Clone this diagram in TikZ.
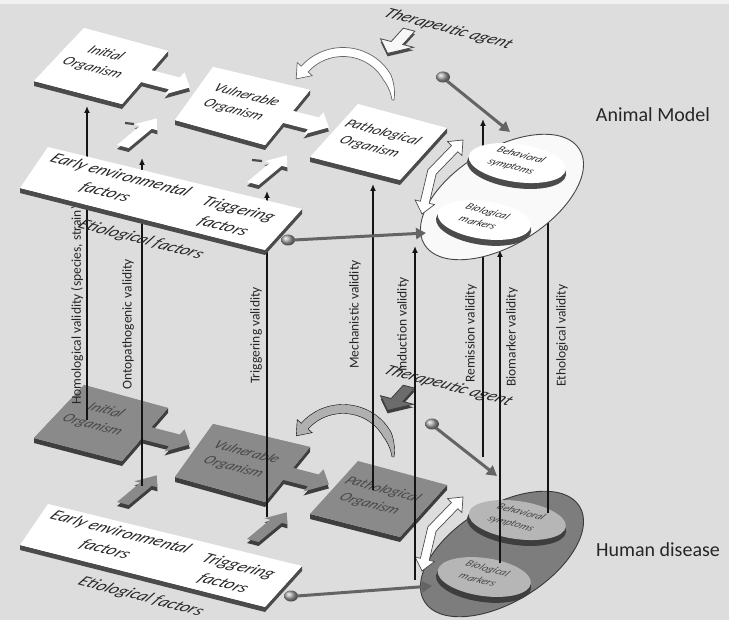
\documentclass[tikz,border=0pt]{standalone}
\usepackage{fontspec}
\setmainfont{Carlito}
\usetikzlibrary{arrows.meta,calc}
\definecolor{bgc}{RGB}{221,221,221}
\definecolor{txtc}{RGB}{38,38,38}
\definecolor{linec}{RGB}{20,20,20}
\definecolor{sideT}{RGB}{75,75,75}
\definecolor{faceB}{RGB}{138,138,138}
\definecolor{sideB}{RGB}{62,62,62}
\definecolor{lolc}{RGB}{100,100,100}
\definecolor{outB}{RGB}{125,125,125}
\definecolor{inB}{RGB}{182,182,182}

\newcommand\ptext[4]{%
  \begin{scope}[shift={(#2)},cm={0.968,-0.25,0.67,0.74,(0,0)}]
    \node[transform shape,inner sep=0pt,#3] (#1) at (0,0) {#4};
  \end{scope}}
\newcommand\slab[6]{%
  \fill[#6] (#4) -- (#3) -- (#2) -- ([yshift=-5pt]#2) -- ([yshift=-5pt]#3) -- ([yshift=-5pt]#4) -- cycle;
  \fill[#5] (#1) -- (#2) -- (#3) -- (#4) -- cycle;}
\newcommand\slabface[4]{\fill[bxface] (#1) -- (#2) -- (#3) -- (#4) -- cycle;}
\newcommand\arrowE[1]{%
  \begin{scope}[shift={(#1)},x={(0.968pt,-0.25pt)},y={(-0.67pt,-0.74pt)}]
    \fill[arrside,yshift=-4pt] (0,0) -- (38,0) -- (38,-7) -- (54,8) -- (38,23) -- (38,16) -- (0,16) -- cycle;
    \fill[arrface] (0,0) -- (38,0) -- (38,-7) -- (54,8) -- (38,23) -- (38,16) -- (0,16) -- cycle;
  \end{scope}}
\newcommand\arrowUp[1]{%
  \begin{scope}[shift={(#1)},x={(0.77pt,0.64pt)},y={(0.968pt,-0.25pt)}]
    \fill[arrside,yshift=-4pt] (0,0) -- (30,0) -- (30,-6) -- (44,6) -- (30,18) -- (30,12) -- (0,12) -- cycle;
    \fill[arrface] (0,0) -- (30,0) -- (30,-6) -- (44,6) -- (30,18) -- (30,12) -- (0,12) -- cycle;
  \end{scope}}
\newcommand\therarrow{%
  \begin{scope}[shift={(397,43)},x={(0.968pt,-0.25pt)},y={(-0.67pt,-0.74pt)}]
    \fill[thside,yshift=-3pt] (-6,-18) -- (6,-18) -- (6,0) -- (17,0) -- (0,14) -- (-17,0) -- (-6,0) -- cycle;
    \filldraw[thface] (-6,-18) -- (6,-18) -- (6,0) -- (17,0) -- (0,14) -- (-17,0) -- (-6,0) -- cycle;
  \end{scope}}
\newcommand\crescent{%
  \filldraw[cresc] plot[domain=0:-140,samples=36] ({343+(50+min(4.5,1+abs(\x)/8))*cos(\x)},{100+(48+min(4.5,1+abs(\x)/8))*sin(\x)})
   -- (297.2,62.6) -- (296.2,78.9) -- (312.2,75.7)
   -- plot[domain=-140:0,samples=36] ({343+(50-min(4.5,1+abs(\x)/8))*cos(\x)},{100+(48-min(4.5,1+abs(\x)/8))*sin(\x)}) -- cycle;}
\newcommand\bentarrow{%
  \filldraw[bentar] (463,140) -- (461.9,155.6) -- (457.9,151.7) -- (436.1,174.2) -- (429.2,203.3) -- (434.5,204.6) -- (422,214) -- (415.1,200.0) -- (420.4,201.3) -- (427.9,169.8) -- (451.5,145.5) -- (447.5,141.6) -- cycle;}
\newcommand\ellipses[1]{%
  \filldraw[outerell,rotate around={31.5:(502,197)}] (502,197) ellipse[x radius=91pt,y radius=48pt];
  \bentarrow
  \fill[inside,rotate around={-8:(484,222)}] (484,225) ellipse[x radius=48pt,y radius=20pt];
  \fill[inface,rotate around={-8:(484,222)}] (484,220) ellipse[x radius=47pt,y radius=19pt];
  \ptext{#1bio}{483,217}{ellt}{Biological\\markers}
  \fill[inside,rotate around={-8:(517,165)}] (517,168) ellipse[x radius=50pt,y radius=20pt];
  \fill[inface,rotate around={-8:(517,165)}] (517,163) ellipse[x radius=49pt,y radius=19pt];
  \ptext{#1beh}{516,161}{ellt}{Behavioral\\symptoms}}
\newcommand\layer[1]{%
  \slab{84,28}{168,51}{122,104}{34,81}{bxface}{bxside}
  \arrowE{143,68}
  \slabface{84,28}{168,51}{122,104}{34,81}
  \ptext{#1init}{99,61}{boxt}{Initial\\Organism}
  \slab{213,67}{310,90}{265,145}{175,120}{bxface}{bxside}
  \arrowE{282,108}
  \slabface{213,67}{310,90}{265,145}{175,120}
  \ptext{#1vul}{240,103}{boxt}{Vulnerable\\Organism}
  \slab{358,104}{447,128}{400,180}{310,157}{bxface}{bxside}
  \ptext{#1pat}{376,140}{boxt}{Pathological\\Organism}
  \arrowUp{117,145}
  \arrowUp{247,182}
  \slab{48,147}{302,209}{265,250}{20,188}{envface}{envside}
  \ptext{#1early}{113,184}{bigt}{Early environmental\\factors}
  \ptext{#1trig}{231,218}{bigt}{Triggering\\factors}
  \ptext{#1etio}{141,240}{bigt}{Etiological factors}
  \crescent
  \ptext{#1ther}{448,29}{bigt}{Therapeutic agent}
  \therarrow
  \ellipses{#1}}

\begin{document}
\begin{tikzpicture}[x=1pt,y=-1pt,
  bxface/.style={fill=white}, bxside/.style={fill=sideT},
  envface/.style={fill=white}, envside/.style={fill=sideT},
  arrface/.style={fill=white}, arrside/.style={fill=sideT},
  cresc/.style={fill=white,draw=gray!80!black,line width=0.7pt},
  thface/.style={fill=gray!6,draw=sideT,line width=0.8pt},
  thside/.style={fill=sideT},
  outerell/.style={fill=gray!5,draw=gray!55!black,line width=0.9pt},
  inface/.style={fill=white}, inside/.style={fill=sideT},
  bentar/.style={fill=white,draw=gray!60!black,line width=0.7pt},
  boxt/.style={text=txtc,align=center,font=\itshape\fontsize{15}{20}\selectfont},
  bigt/.style={text=txtc,align=center,font=\itshape\fontsize{17.5}{23}\selectfont},
  ellt/.style={text=txtc,align=center,font=\itshape\fontsize{11}{15}\selectfont},
  vlab/.style={rotate=90,anchor=west,inner sep=0pt,text=txtc,font=\fontsize{13.5}{16}\selectfont},
  vline/.style={draw=linec,line width=1.8pt,-{Latex[length=7pt,width=6pt]}},
  lol/.style={draw=lolc,line width=3pt,-{Triangle[length=10pt,width=11pt]}},
  ttl/.style={text=txtc,font=\fontsize{20}{24}\selectfont}]
\useasboundingbox (0,0) rectangle (729,620);
\fill[bgc] (0,0) rectangle (729,620);
\fill[white!60!bgc] (0,0) rectangle (729,4);

% ---------- Human disease layer ----------
\begin{scope}[shift={(0,357)},
  bxface/.style={fill=faceB}, bxside/.style={fill=sideB},
  arrface/.style={fill=faceB}, arrside/.style={fill=sideB},
  cresc/.style={fill=gray!62},
  thface/.style={draw=sideB,line width=0.8pt,fill=gray!85!black},
  thside/.style={fill=sideB},
  outerell/.style={fill=outB,draw=gray!45!black,line width=0.9pt},
  inface/.style={fill=inB}, inside/.style={fill=sideB},
  boxt/.style={text=txtc!85!white,align=center,font=\itshape\fontsize{15}{20}\selectfont},
  ellt/.style={text=txtc!85!white,align=center,font=\itshape\fontsize{11}{15}\selectfont}]
  \layer{b}
\end{scope}
\shade[ball color=gray!70] (432,424) ellipse[x radius=7pt,y radius=5.5pt];
\coordinate (bl1s) at (436,428); \coordinate (bl1e) at (497,476);
\draw[lol] (bl1s) -- (bl1e);
\shade[ball color=gray!70] (291,596) ellipse[x radius=7pt,y radius=5.5pt];
\coordinate (bl2s) at (297,596); \coordinate (bl2e) at (432,586);
\draw[lol] (bl2s) -- (bl2e);

% ---------- validity labels and lines ----------
\node[vlab] (lhom) at (77,405) {Homological validity (species, strain)};
\node[vlab] (lont) at (128,390) {Ontopathogenic validity};
\node[vlab] (ltrg) at (256,384) {Triggering validity};
\node[vlab] (lmec) at (355,369) {Mechanistic validity};
\node[vlab] (lind) at (403,372) {Induction validity};
\node[vlab] (lrem) at (471,383) {Remission validity};
\node[vlab] (lbio) at (512,387) {Biomarker validity};
\node[vlab] (leth) at (562,387) {Ethological validity};

\coordinate (v1b) at (87,420);  \coordinate (v1t) at (87,106);
\coordinate (v2b) at (142,486); \coordinate (v2t) at (142,158);
\coordinate (v3b) at (267,517); \coordinate (v3t) at (267,191);
\coordinate (v4b) at (373,490); \coordinate (v4t) at (373,184);
\coordinate (v5b) at (415,580); \coordinate (v5t) at (415,246);
\coordinate (v6b) at (483,457); \coordinate (v6t) at (483,119);
\coordinate (v7b) at (500,563); \coordinate (v7t) at (500,250);
\coordinate (v8b) at (548,513); \coordinate (v8t) at (548,191);
\foreach \i in {1,...,8} {\draw[vline] (v\i b) -- (v\i t);}

% ---------- Animal model layer ----------
\layer{t}
\draw[line width=2.2pt,sideT] (125,123) -- (134,124);
\draw[line width=2.2pt,sideT] (252,160) -- (262,161);
\shade[ball color=gray!70] (443,77) ellipse[x radius=7pt,y radius=5.5pt];
\coordinate (tl1s) at (447,81); \coordinate (tl1e) at (510,132);
\draw[lol] (tl1s) -- (tl1e);
\shade[ball color=gray!70] (288,240) ellipse[x radius=7pt,y radius=5.5pt];
\coordinate (tl2s) at (294,240); \coordinate (tl2e) at (426,233);
\draw[lol] (tl2s) -- (tl2e);

\node[ttl] (animal) at (653,115) {Animal Model};
\node[ttl] (human) at (658,550) {Human disease};
\end{tikzpicture}
\end{document}
